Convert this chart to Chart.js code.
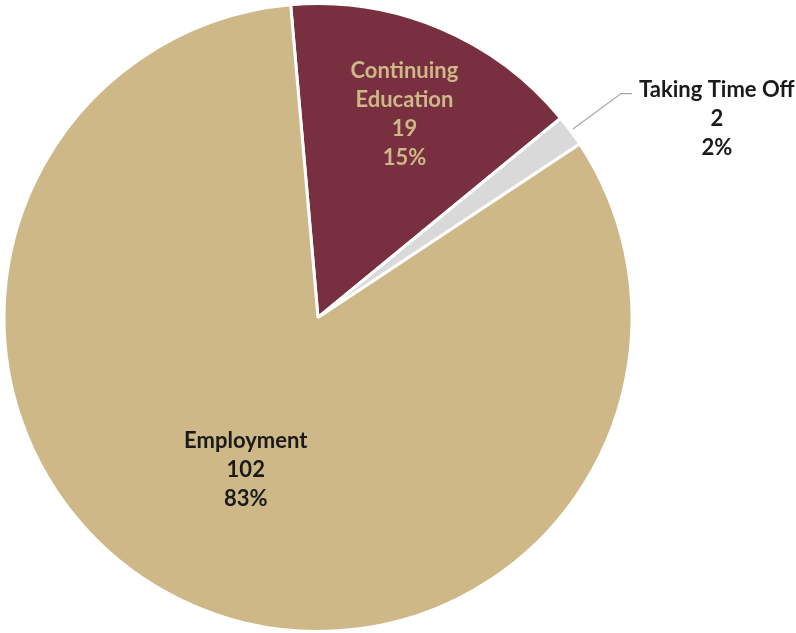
<!DOCTYPE html>
<html lang="en">
<head>
<meta charset="utf-8">
<title>Outcomes</title>
<script src="https://cdn.jsdelivr.net/npm/chart.js@4/dist/chart.umd.min.js"></script>
<style>
  html, body { margin: 0; padding: 0; background: #ffffff; }
  #wrap { width: 796px; height: 633px; }
</style>
</head>
<body>
<div id="wrap"><canvas id="pie" width="796" height="633"></canvas></div>
<script>
// Clockwise from just left of 12 o'clock, as the original is drawn.
const categories = ['Continuing Education', 'Taking Time Off', 'Employment'];
const counts = [19, 2, 102];
const percents = ['15%', '2%', '83%'];
const labelLines = [['Continuing', 'Education'], ['Taking Time Off'], ['Employment']];

const COLORS = ['#782f40', '#d9d9d9', '#ceb887'];
const INK = ['#ceb887', '#1a1a1a', '#1a1a1a'];
// Inside labels sit at a fraction of the radius; null = outside with a leader.
const LABEL_R = [0.71, null, 0.53];
const FONT = 'bold 22px Lato, "Open Sans", sans-serif';
const LINE_H = 29;

const labelPlugin = {
  id: 'sliceLabels',
  afterDatasetsDraw(chart) {
    const ctx = chart.ctx;
    const arcs = chart.getDatasetMeta(0).data;
    ctx.save();
    ctx.font = FONT;
    ctx.textBaseline = 'middle';
    arcs.forEach((arc, i) => {
      const { x, y, startAngle, endAngle, outerRadius } = arc.getProps(['x', 'y', 'startAngle', 'endAngle', 'outerRadius'], true);
      const mid = (startAngle + endAngle) / 2;
      const lines = [...labelLines[i], String(counts[i]), percents[i]];
      let cx, cy;
      if (LABEL_R[i] != null) {
        cx = x + Math.cos(mid) * outerRadius * LABEL_R[i];
        cy = y + Math.sin(mid) * outerRadius * LABEL_R[i] + 2;
      } else {
        const r0 = outerRadius + 3, r1 = outerRadius * 1.2;
        const ex = x + Math.cos(mid) * r1, ey = y + Math.sin(mid) * r1;
        ctx.strokeStyle = '#a6a6a6';
        ctx.lineWidth = 1.2;
        ctx.beginPath();
        ctx.moveTo(x + Math.cos(mid) * r0, y + Math.sin(mid) * r0);
        ctx.lineTo(ex, ey);
        ctx.lineTo(ex + 11, ey);
        ctx.stroke();
        const w = Math.max(...lines.map(l => ctx.measureText(l).width));
        cx = ex + 18 + w / 2;
        cy = ey - 4 + LINE_H;
      }
      ctx.fillStyle = INK[i];
      ctx.textAlign = 'center';
      const top = cy - (lines.length - 1) * LINE_H / 2;
      lines.forEach((l, k) => ctx.fillText(l, cx, top + k * LINE_H));
    });
    ctx.restore();
  },
};

new Chart(document.getElementById('pie'), {
  type: 'pie',
  data: {
    labels: categories,
    datasets: [{
      data: counts,
      backgroundColor: COLORS,
      borderColor: '#ffffff',
      borderWidth: 3,
    }],
  },
  options: {
    responsive: false, animation: false, devicePixelRatio: 1,
    rotation: -5,
    layout: { padding: { left: 1, right: 161, top: 2, bottom: -3 } },
    plugins: { legend: { display: false }, tooltip: { enabled: false } },
  },
  plugins: [labelPlugin],
});
</script>
</body>
</html>
